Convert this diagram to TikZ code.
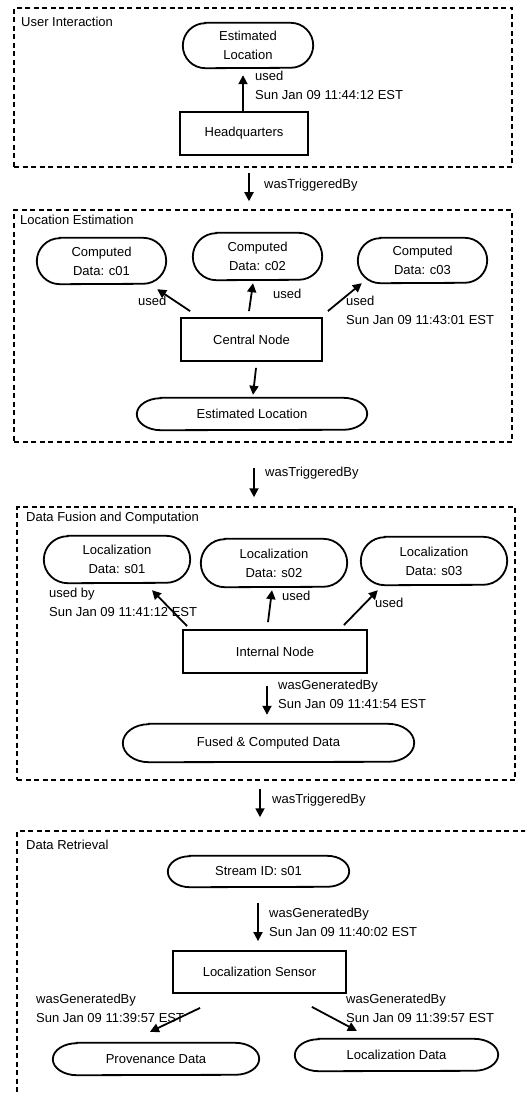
\documentclass[tikz,border=0pt]{standalone}
\usepackage{fontspec}
\setmainfont{Liberation Sans}
\usetikzlibrary{arrows.meta,calc}
\newcommand\stadshape[3]{%
  \draw[line width=1.8pt] ($(#1.north west)+(#2,0)$) -- ($(#1.north east)+(-#2,0)$)
    arc[start angle=90,end angle=-90,x radius=#2pt,y radius=#3pt]
    -- ($(#1.south west)+(#2,0)$)
    arc[start angle=270,end angle=90,x radius=#2pt,y radius=#3pt] -- cycle;}
\begin{document}
\begin{tikzpicture}[x=1pt,y=-1pt,
  every node/.style={font=\fontsize{13}{19}\selectfont, inner sep=0pt},
  boxnode/.style={draw, line width=1.8pt, rectangle},
  blob/.style={rectangle, draw=none, align=center},
  arr/.style={line width=1.8pt, -{Triangle[length=9pt,width=9pt]}},
  frame/.style={draw, dash pattern=on 5pt off 3.5pt, line width=1.5pt, rectangle},
  lbl/.style={anchor=west, align=left}]
\useasboundingbox (0,0) rectangle (525,1094);
\clip (0,0) rectangle (525,1094);

% frames
\node[frame, minimum width=498pt, minimum height=159pt] (F1) at (263,87.5) {};
\node[frame, minimum width=498pt, minimum height=232pt] (F2) at (263,326) {};
\node[frame, minimum width=498pt, minimum height=273pt] (F3) at (266,643.5) {};
\node[frame, minimum width=523pt, minimum height=279pt] (F4) at (278.5,970.5) {};
\node[lbl] (L1) at (21,22) {User Interaction};
\node[lbl] (L2) at (20,220) {Location Estimation};
\node[lbl] (L3) at (26,518) {Data Fusion and Computation};
\node[lbl] (L4) at (26,845) {Data Retrieval};

% User Interaction
\node[blob, minimum width=130pt, minimum height=45pt] (EL1) at (248,45.5) {Estimated\\Location};
\stadshape{EL1}{22.5}{22.5}
\node[boxnode, minimum width=128pt, minimum height=43pt] (HQ) at (244,133.5) {Headquarters};
\draw[arr] ($(HQ.north)+(-1,0)$) -- ($(EL1.south)+(-5,7)$);
\node[lbl] (a1) at (255,85) {used\\Sun Jan 09 11:44:12 EST};

\draw[arr] ($(F1.south)+(-14,5)$) -- ($(F2.north)+(-14,-8)$);
\node[lbl] (t1) at (264,185) {wasTriggeredBy};

% Location Estimation
\node[blob, minimum width=129pt, minimum height=46pt] (c01) at (101.5,261) {Computed\\Data: c01};
\stadshape{c01}{23}{23}
\node[blob, minimum width=129pt, minimum height=47pt] (c02) at (257.5,256.5) {Computed\\Data: c02};
\stadshape{c02}{23.5}{23.5}
\node[blob, minimum width=129pt, minimum height=45pt] (c03) at (422.5,260.5) {Computed\\Data: c03};
\stadshape{c03}{22.5}{22.5}
\node[boxnode, minimum width=141pt, minimum height=43pt] (CN) at (251.5,339.5) {Central Node};
\node[blob, minimum width=230pt, minimum height=32pt] (EL2) at (252,414) {Estimated Location};
\stadshape{EL2}{24}{16}
\draw[arr] ($(CN.north west)+(10,-6)$) -- ($(c01.south east)+(-9,5)$);
\draw[arr] ($(CN.north)+(-2.5,-6)$) -- ($(c02.south)+(-4.5,3)$);
\draw[arr] ($(CN.north east)+(5,-6)$) -- ($(c03.south west)+(4,0)$);
\draw[arr] ($(CN.south)+(4.5,6)$) -- ($(EL2.north)+(1,-3)$);
\node[lbl] (u1) at (138,301) {used};
\node[lbl] (u2) at (273,294) {used};
\node[lbl] (u3) at (346,310) {used\\Sun Jan 09 11:43:01 EST};

\draw[arr] ($(F2.south)+(-9,25)$) -- ($(F3.north)+(-12,-9)$);
\node[lbl] (t2) at (265,473) {wasTriggeredBy};

% Data Fusion and Computation
\node[blob, minimum width=146pt, minimum height=47pt] (s01) at (117,559.5) {Localization\\Data: s01};
\stadshape{s01}{24}{23.5}
\node[blob, minimum width=146pt, minimum height=48pt] (s02) at (274,563) {Localization\\Data: s02};
\stadshape{s02}{24}{24}
\node[blob, minimum width=146pt, minimum height=48pt] (s03) at (434,561) {Localization\\Data: s03};
\stadshape{s03}{24}{24}
\node[boxnode, minimum width=184pt, minimum height=43pt] (IN) at (275,651.5) {Internal Node};
\node[blob, minimum width=291pt, minimum height=38pt] (FCD) at (268.5,743) {Fused \& Computed Data};
\stadshape{FCD}{26}{19}
\draw[arr] ($(IN.north west)+(5,-3)$) -- ($(s01.south)+(35,7)$);
\draw[arr] ($(IN.north)+(-7,-7)$) -- ($(s02.south)+(-2,3)$);
\draw[arr] ($(IN.north east)+(-24,-4)$) -- ($(s03.south west)+(17,5)$);
\draw[arr] ($(IN.south)+(-8,12)$) -- ($(FCD.north)+(-1.5,-9)$);
\node[lbl] (u4) at (49,602.5) {used by\\Sun Jan 09 11:41:12 EST};
\node[lbl] (u5) at (282,596) {used};
\node[lbl] (u6) at (375,603) {used};
\node[lbl] (g1) at (278,694) {wasGeneratedBy\\Sun Jan 09 11:41:54 EST};

\draw[arr] ($(F3.south)+(-6,8)$) -- ($(F4.north)+(-18.5,-13)$);
\node[lbl] (t3) at (272,800) {wasTriggeredBy};

% Data Retrieval
\node[blob, minimum width=181pt, minimum height=31pt] (SID) at (258.5,871.5) {Stream ID: s01};
\stadshape{SID}{22}{15.5}
\node[boxnode, minimum width=173pt, minimum height=42pt] (LS) at (259.5,972) {Localization Sensor};
\node[blob, minimum width=206pt, minimum height=32pt] (PD) at (156,1059) {Provenance Data};
\stadshape{PD}{24}{16}
\node[blob, minimum width=203pt, minimum height=32pt] (LD) at (396.5,1055) {Localization Data};
\stadshape{LD}{24}{16}
\draw[arr] ($(SID.south)+(-0.5,16)$) -- ($(LS.north)+(-1.5,-9)$);
\draw[arr] ($(LS.south west)+(28,14)$) -- ($(PD.north)+(-6,-11)$);
\draw[arr] ($(LS.south east)+(-35,13)$) -- ($(LD.north west)+(62,-8)$);
\node[lbl] (g2) at (269,922.5) {wasGeneratedBy\\Sun Jan 09 11:40:02 EST};
\node[lbl] (g3) at (36,1008.5) {wasGeneratedBy\\Sun Jan 09 11:39:57 EST};
\node[lbl] (g4) at (346,1008.5) {wasGeneratedBy\\Sun Jan 09 11:39:57 EST};
\end{tikzpicture}
\end{document}
